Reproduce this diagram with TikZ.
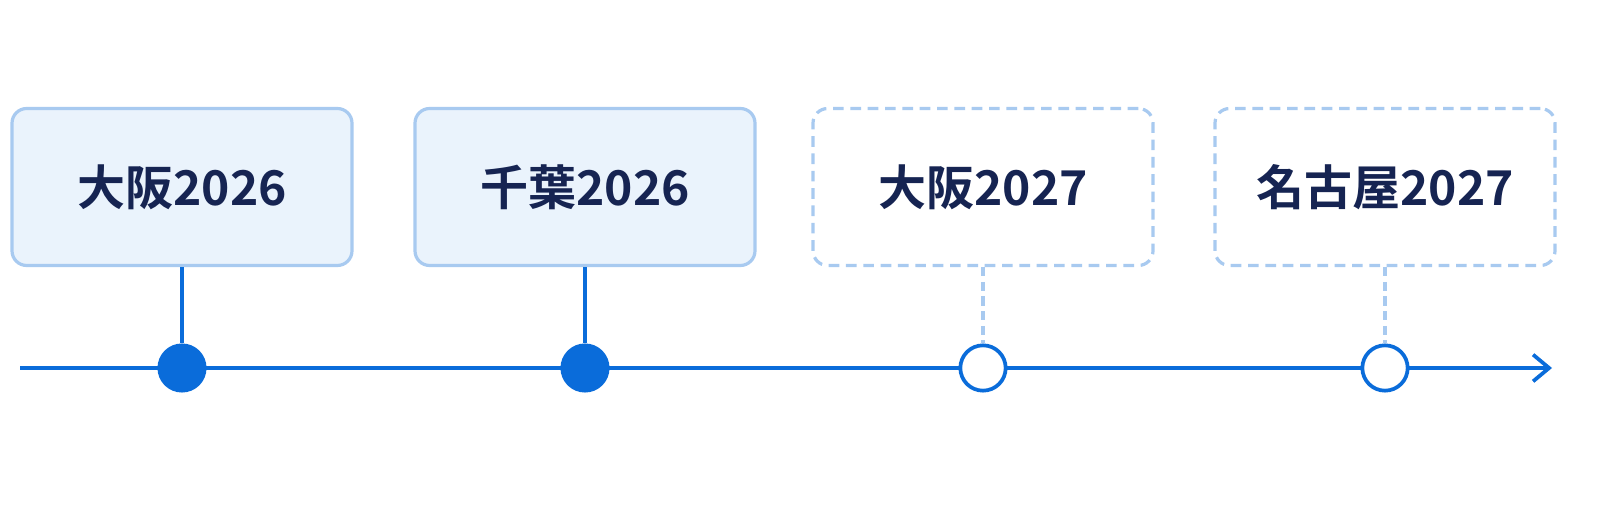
\documentclass[tikz,border=0pt]{standalone}
\usetikzlibrary{arrows.meta}
\usepackage{fontspec}
\newfontfamily\cjk{Noto Sans CJK JP}[BoldFont={* Bold}]
\definecolor{lineblue}{RGB}{10,108,218}
\definecolor{boxfill}{RGB}{234,243,252}
\definecolor{boxline}{RGB}{168,202,240}
\definecolor{navy}{RGB}{22,36,82}
\tikzset{every picture/.style={line width=0.75pt}}
\tikzset{
	event/.style={draw=boxline, line width=2.4pt, rounded corners=11pt, minimum width=255pt, minimum height=117.75pt, font=\cjk\bfseries\fontsize{36}{42}\selectfont, text=navy},
	done/.style={event, fill=boxfill},
	plan/.style={event, dashed, dash pattern=on 8pt off 5pt, fill=white},
	stem/.style={draw=lineblue, line width=2.8pt},
	planstem/.style={draw=boxline, line width=2.6pt, dash pattern=on 7pt off 4pt},
	dot/.style={circle, draw=lineblue, fill=lineblue, line width=2.8pt, minimum size=34pt, inner sep=0pt},
	opendot/.style={dot, fill=white}}

\begin{document}
\begin{tikzpicture}[x=0.75pt,y=0.75pt,yscale=-1,xscale=1]
	\useasboundingbox (0,0) rectangle (1600,509);

	% events
	\node[done] (osaka26) at (182,187) {大阪2026};
	\node[done] (chiba26) at (585,187) {千葉2026};
	\node[plan] (osaka27) at (983,187) {大阪2027};
	\node[plan] (nagoya27) at (1385,187) {名古屋2027};

	% axis
	\coordinate (start) at (20,368);
	\coordinate (end) at (1552,368);
	\draw[lineblue, line width=2.8pt, -{Straight Barb[length=12pt,width=20pt,line width=2.8pt]}] (start) -- (end);

	% markers
	\node[dot] (m1) at (182,368) {};
	\node[dot] (m2) at (585,368) {};
	\node[opendot] (m3) at (983,368) {};
	\node[opendot] (m4) at (1385,368) {};

	% stems
	\draw[stem] (osaka26) -- (m1);
	\draw[stem] (chiba26) -- (m2);
	\draw[planstem] (osaka27) -- (m3);
	\draw[planstem] (nagoya27) -- (m4);
\end{tikzpicture}
\end{document}
